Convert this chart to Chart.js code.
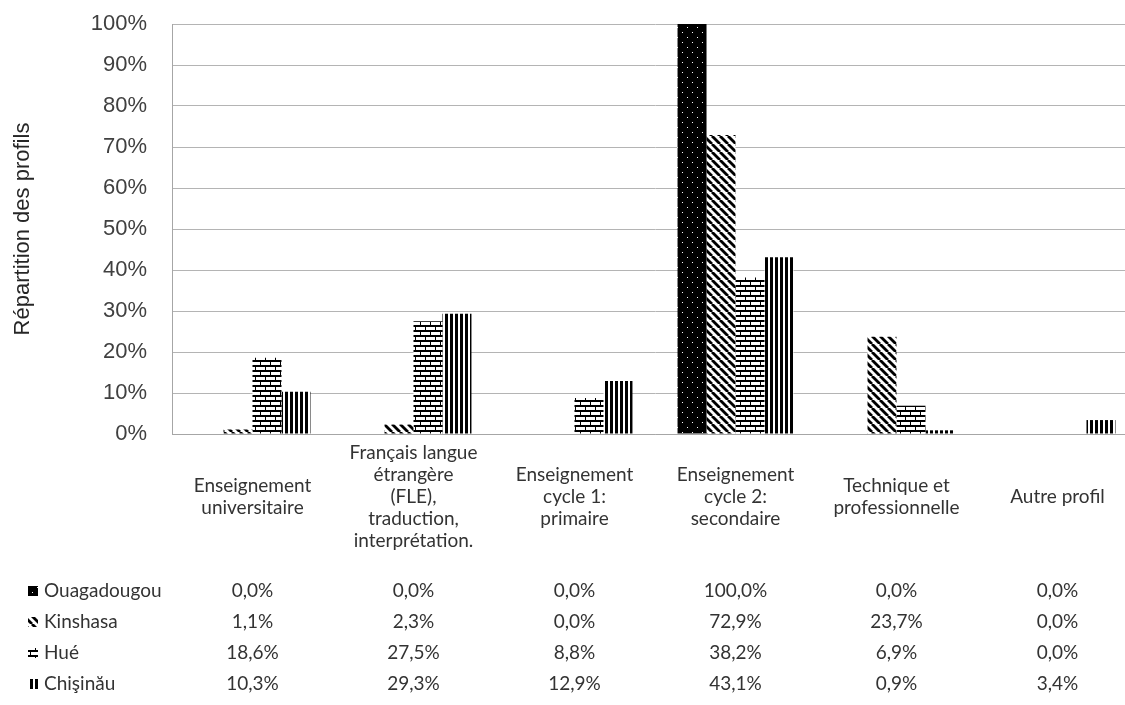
<!DOCTYPE html>
<html lang="fr">
<head>
<meta charset="UTF-8">
<script src="https://cdn.jsdelivr.net/npm/chart.js"></script>
<style>
  html, body { margin: 0; padding: 0; background: #fff; overflow: hidden; }
  .wrap { width: 1140px; height: 705px; }
</style>
</head>
<body>
<div class="wrap"><canvas id="profils" width="1140" height="705"></canvas></div>
<script>
// categories (multi-line labels, as in the data table header)
const categories = [
  ['Enseignement', 'universitaire'],
  ['Français langue', 'étrangère', '(FLE),', 'traduction,', 'interprétation.'],
  ['Enseignement', 'cycle 1:', 'primaire'],
  ['Enseignement', 'cycle 2:', 'secondaire'],
  ['Technique et', 'professionnelle'],
  ['Autre profil']
];
const seriesNames = ['Ouagadougou', 'Kinshasa', 'Hué', 'Chişinău'];

// % per city
const ouagadougou = [0.0, 0.0, 0.0, 100.0, 0.0, 0.0];
const kinshasa    = [1.1, 2.3, 0.0, 72.9, 23.7, 0.0];
const hue         = [18.6, 27.5, 8.8, 38.2, 6.9, 0.0];
const chisinau    = [10.3, 29.3, 12.9, 43.1, 0.9, 3.4];

const yTickStep = 10;

// --- fill patterns (Excel style) ---
function tile(w, h, draw) {
  const c = document.createElement('canvas');
  c.width = w; c.height = h;
  const g = c.getContext('2d');
  draw(g);
  return document.getElementById('profils').getContext('2d').createPattern(c, 'repeat');
}
const dotPattern = tile(10, 10, g => {
  g.fillStyle = '#000'; g.fillRect(0, 0, 10, 10);
  g.fillStyle = '#fff'; g.fillRect(2, 2, 1, 1); g.fillRect(7, 7, 1, 1);
});
const diagPattern = tile(8, 8, g => {
  g.fillStyle = '#fff'; g.fillRect(0, 0, 8, 8);
  g.strokeStyle = '#000'; g.lineWidth = 2.8;
  [-8, 0, 8].forEach(o => { g.beginPath(); g.moveTo(o, 0); g.lineTo(o + 8, 8); g.stroke(); });
});
const brickPattern = tile(10, 10, g => {
  g.fillStyle = '#fff'; g.fillRect(0, 0, 10, 10);
  g.fillStyle = '#000';
  g.fillRect(0, 0, 10, 2); g.fillRect(0, 5, 10, 2);
  g.fillRect(0, 0, 1, 5); g.fillRect(5, 5, 1, 5);
});
const vlinePattern = tile(5, 5, g => {
  g.fillStyle = '#fff'; g.fillRect(0, 0, 5, 5);
  g.fillStyle = '#000'; g.fillRect(0, 0, 3, 5);
});
const patterns = [dotPattern, diagPattern, brickPattern, vlinePattern];
const seriesValues = [ouagadougou, kinshasa, hue, chisinau];

function fmt(v) { return v.toFixed(1).replace('.', ',') + '%'; }

// draws the data table under the plot (header labels + value rows)
const dataTable = {
  id: 'dataTable',
  afterDraw(chart) {
    const ctx = chart.ctx;
    const x = chart.scales.x;
    ctx.save();
    ctx.font = '19px Lato';
    ctx.fillStyle = '#333';
    ctx.textAlign = 'center';
    ctx.textBaseline = 'middle';
    const lineGap = 22, headerMid = 497;
    categories.forEach((lines, i) => {
      const cx = x.getPixelForValue(i);
      const top = headerMid - (lines.length - 1) * lineGap / 2;
      lines.forEach((l, k) => ctx.fillText(l, cx, top + k * lineGap));
    });
    const rowTop = 591, rowGap = 31;
    seriesNames.forEach((name, r) => {
      const y = rowTop + r * rowGap;
      ctx.fillStyle = patterns[r];
      ctx.fillRect(28, y - 5, 10, 10);
      ctx.fillStyle = '#333';
      ctx.textAlign = 'left';
      ctx.fillText(name, 44, y);
      ctx.textAlign = 'center';
      seriesValues[r].forEach((v, i) => ctx.fillText(fmt(v), x.getPixelForValue(i), y));
    });
    ctx.restore();
  }
};

new Chart(document.getElementById('profils'), {
  type: 'bar',
  data: {
    labels: categories.map(c => c.join(' ')),
    datasets: seriesNames.map((n, i) => ({
      label: n,
      data: seriesValues[i],
      backgroundColor: patterns[i],
      borderWidth: 0,
      categoryPercentage: 0.72,
      barPercentage: 1.0
    }))
  },
  options: {
    responsive: false,
    animation: false,
    layout: { padding: { top: 24, right: 2, left: 0, bottom: 0 } },
    plugins: { legend: { display: false }, tooltip: { enabled: false } },
    scales: {
      x: {
        ticks: { display: false },
        grid: { display: false },
        border: { display: true, color: '#a6a6a6' },
        afterFit(s) { s.height = 705 - 434; s.paddingLeft = 0; s.paddingRight = 0; }
      },
      y: {
        min: 0, max: 100,
        ticks: {
          stepSize: yTickStep,
          padding: 25,
          color: '#404040',
          font: { family: 'Liberation Sans', size: 22 },
          callback: v => v + '%'
        },
        grid: { color: '#b4b4b4', drawTicks: false },
        border: { display: true, color: '#a6a6a6' },
        title: {
          display: true,
          text: 'Répartition des profils',
          color: '#262626',
          font: { family: 'Liberation Sans', size: 22 },
          padding: { top: 10, bottom: 0 }
        },
        afterFit(s) { s.width = 172; s.paddingTop = 0; s.paddingBottom = 0; }
      }
    }
  },
  plugins: [dataTable]
});
</script>
</body>
</html>
